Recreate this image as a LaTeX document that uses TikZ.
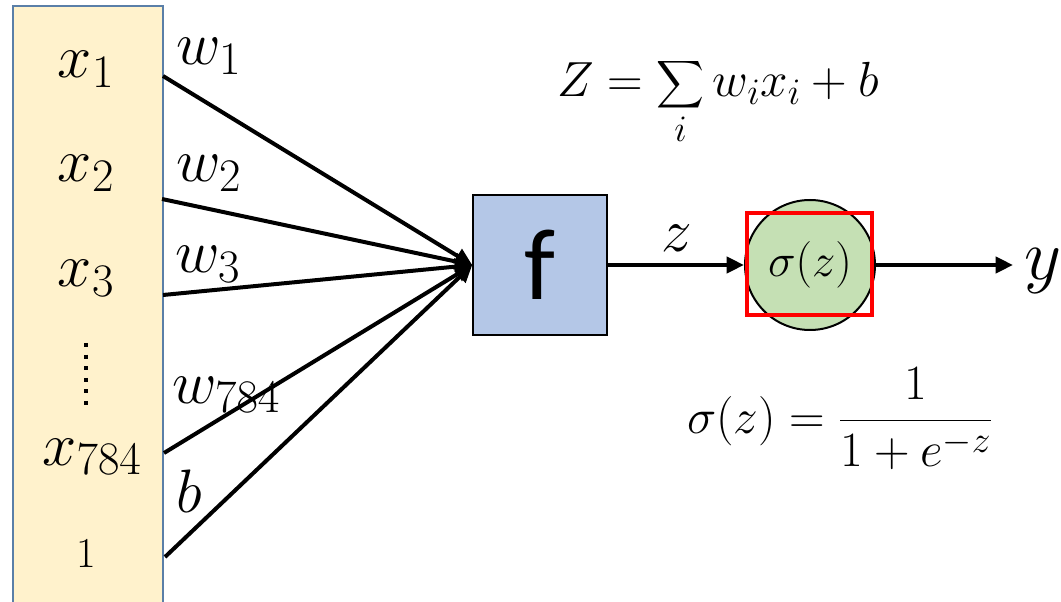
\RequirePackage{fix-cm}
\documentclass[tikz,border=0pt]{standalone}
\usepackage{amsmath}
\usepackage{exscale}
\usepackage{fontspec}
\newfontfamily\calibri{Carlito}
\usetikzlibrary{arrows.meta}
\DeclareMathSizes{46}{46}{35}{28}
\DeclareMathSizes{37}{37}{28}{22}
\DeclareMathSizes{35}{35}{27}{21}
\definecolor{incol}{HTML}{FFF2CC}
\definecolor{inborder}{HTML}{5A7FA8}
\definecolor{fcol}{HTML}{B4C7E7}
\definecolor{sigcol}{HTML}{C5E0B4}
\begin{document}
\begin{tikzpicture}[x=0.75pt,y=-0.75pt,
  big/.style={font=\fontsize{46}{52}\selectfont, inner sep=0pt},
  formula/.style={font=\fontsize{37}{44}\selectfont, inner sep=0pt},
  wire/.style={line width=3pt, -{Triangle[length=13pt,width=12pt]}}]
\useasboundingbox (0,0) rectangle (1061,602);
\clip (0,0) rectangle (1061,602);

% input column
\node (inbox) [rectangle, draw=inborder, fill=incol, line width=1.5pt,
  minimum width=112.5pt, minimum height=461pt, anchor=north west, inner sep=0pt] at (12,5) {};

\node (x1) [big, anchor=base] at (86,78) {$x_1$};
\node (x2) [big, anchor=base] at (86,182) {$x_2$};
\node (x3) [big, anchor=base] at (86,287) {$x_3$};
\node (x784) [big, anchor=base] at (92,465) {$x_{784}$};
\node (one) [font=\fontsize{32}{38}\selectfont, inner sep=0pt, anchor=base] at (86,567) {$1$};
\coordinate (dtop) at (86,343);
\coordinate (dbot) at (86,407);
\draw[line width=3pt, dash pattern=on 3pt off 5.7pt] (dtop) -- (dbot);

% start points of connectors
\coordinate (s1) at (163,76);
\coordinate (s2) at (162,199);
\coordinate (s3) at (163,295);
\coordinate (s4) at (164,453);
\coordinate (s5) at (165,557);

% f box
\node (f) [rectangle, draw=black, fill=fcol, line width=1.1pt,
  minimum width=100.5pt, minimum height=105pt, inner sep=0pt,
  font=\calibri\fontsize{76}{84}\selectfont] at (540,265) {f};

\draw[wire] (s1) -- (f.west);
\draw[wire] (s2) -- (f.west);
\draw[wire] (s3) -- (f.west);
\draw[wire] (s4) -- (f.west);
\draw[wire] (s5) -- (f.west);

% weight labels
\node (w1) [big, anchor=base west] at (176,65) {$w_1$};
\node (w2) [big, anchor=base west] at (176,182) {$w_2$};
\node (w3) [big, anchor=base west] at (175,273) {$w_3$};
\node (w784) [big, anchor=base west] at (172,403) {$w_{784}$};
\node (b) [big, anchor=base west] at (176,512) {$b$};

% sigmoid
\node (sig) [circle, draw=black, fill=sigcol, line width=1.5pt,
  minimum size=97.5pt, inner sep=0pt, font=\fontsize{35}{40}\selectfont] at (810,265) {$\sigma(z)$};
\node (hl) [rectangle, draw=red, line width=3pt, minimum width=93.75pt,
  minimum height=76.5pt, inner sep=0pt] at (809.5,264) {};

\draw[wire] (f.east) -- (sig.west);
\node (zl) [big, anchor=base] at (677,252) {$z$};

\coordinate (yend) at (1013,265);
\draw[wire] (sig.east) -- (yend);
\node (y) [font=\fontsize{54}{60}\selectfont, inner sep=0pt, anchor=base west] at (1024,280) {$y$};

% formulas
\node (eqz) [formula, anchor=base] at (718,97) {$\displaystyle Z=\sum_i w_i x_i + b$};
\node (eqs) [formula, anchor=base] at (840,433) {$\displaystyle \sigma(z)=\frac{1}{1+e^{-z}}$};
\end{tikzpicture}
\end{document}
